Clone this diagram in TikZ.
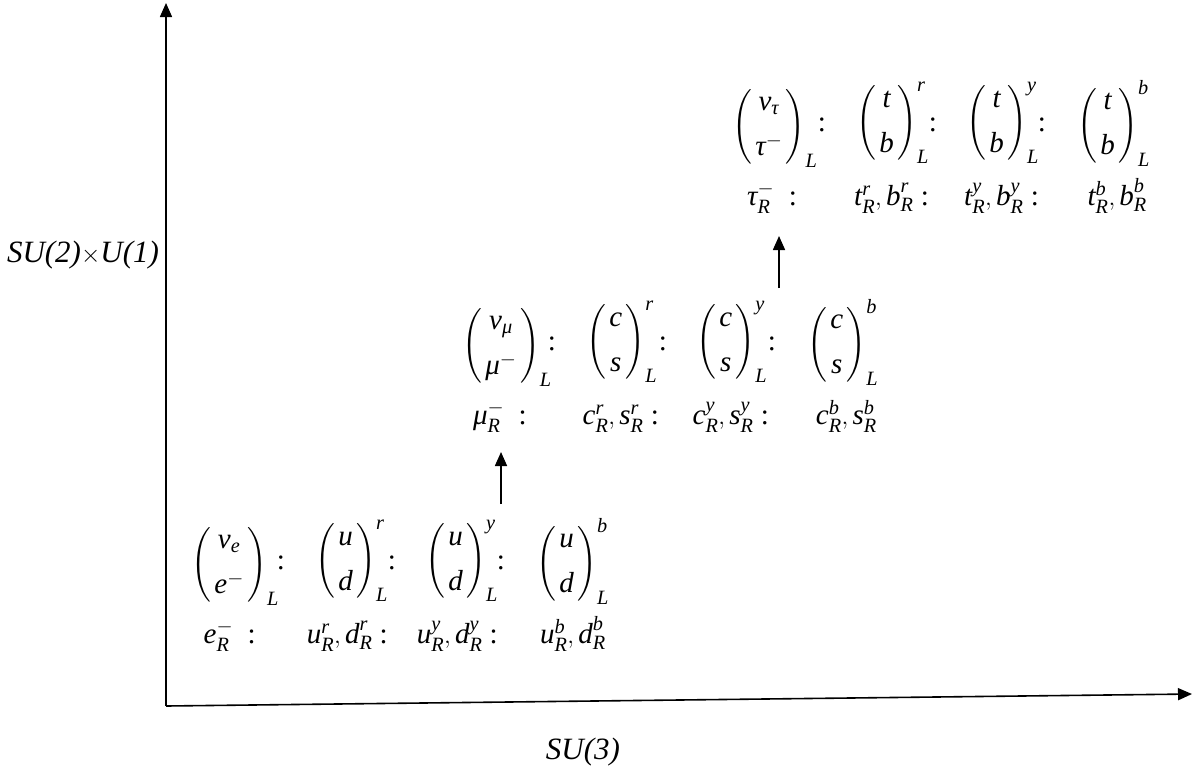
\documentclass[tikz,border=0pt]{standalone}
\usepackage{amsmath}
\usepackage{fontspec}
\setmainfont{Liberation Serif}
\usetikzlibrary{arrows.meta}
\newcommand\I[1]{\textit{#1}}
\newcommand\dbl[2]{\left(\begin{array}{@{\kern3.5pt}c@{\kern3.5pt}}#1\\[11pt]#2\end{array}\right)}
\newcommand\qr[3]{\I{#1}^{\I{#3}}_{\I{R}},\I{#2}^{\I{#3}}_{\I{R}}}
% #1 prefix, #2 dx, #3 dy, #4 neutrino, #5 charged lepton, #6 up, #7 down, #8 right-handed lepton
\newcommand\genblock[8]{%
\begin{scope}[shift={(#2,#3)}]
\node[ent,anchor=west] (#1m0) at (191,565) {$\dbl{#4}{#5}_{\I{L}}$};
\node[ent] (#1c1) at (281,563) {:};
\node[ent,anchor=west] (#1m1) at (315,561) {$\dbl{\I{#6}}{\I{#7}}^{\I{r}}_{\I{L}}$};
\node[ent] (#1c2) at (392,563) {:};
\node[ent,anchor=west] (#1m2) at (425,561) {$\dbl{\I{#6}}{\I{#7}}^{\I{y}}_{\I{L}}$};
\node[ent] (#1c3) at (501,563) {:};
\node[ent,anchor=west] (#1m3) at (536,561) {$\dbl{\I{#6}}{\I{#7}}^{\I{b}}_{\I{L}}$};
\node[ent,anchor=base east] (#1r0) at (256,643) {#8\ \ :};
\node[ent,anchor=base east] (#1r1) at (388,643) {$\qr{#6}{#7}{r}$\ :};
\node[ent,anchor=base east] (#1r2) at (498,643) {$\qr{#6}{#7}{y}$\ :};
\node[ent,anchor=base east] (#1r3) at (606,643) {$\qr{#6}{#7}{b}$};
\end{scope}}
\begin{document}
\begin{tikzpicture}[x=1pt,y=-1pt,
  ent/.style={inner sep=0pt,font=\fontsize{29}{34}\selectfont},
  lab/.style={inner sep=0pt,font=\fontsize{31}{36}\selectfont\itshape},
  arr/.style={line width=1.6pt,-{Triangle[length=14pt,width=12pt]}}]
\useasboundingbox (0,0) rectangle (1196,769);
% axes
\coordinate (O) at (166,706);
\coordinate (ytop) at (166,3);
\coordinate (xend) at (1192,694);
\draw[arr] (O) -- (ytop);
\draw[arr] (O) -- (xend);
\node[lab] (ylab) at (83,255) {SU(2)$\times$U(1)};
\node[lab] (xlab) at (583,752) {SU(3)};
% blocks
\genblock{a}{0}{0}{\I{ν}_{\I{e}}}{\I{e}^{-}}{u}{d}{$\I{e}^{-}_{\I{R}}$}
\genblock{b}{271}{-219}{\I{ν}_{\I{μ}}}{\I{μ}^{-}}{c}{s}{$\I{μ}^{-}_{\I{R}}$}
\genblock{c}{541}{-438}{\I{ν}_{\I{τ}}}{\I{τ}^{-}}{t}{b}{$\I{τ}^{-}_{\I{R}}$}
% arrows between generations
\coordinate (a1s) at (501,504);
\coordinate (a1e) at (501,452);
\coordinate (a2s) at (779,288);
\coordinate (a2e) at (779,236);
\draw[arr] (a1s) -- (a1e);
\draw[arr] (a2s) -- (a2e);
\end{tikzpicture}
\end{document}
